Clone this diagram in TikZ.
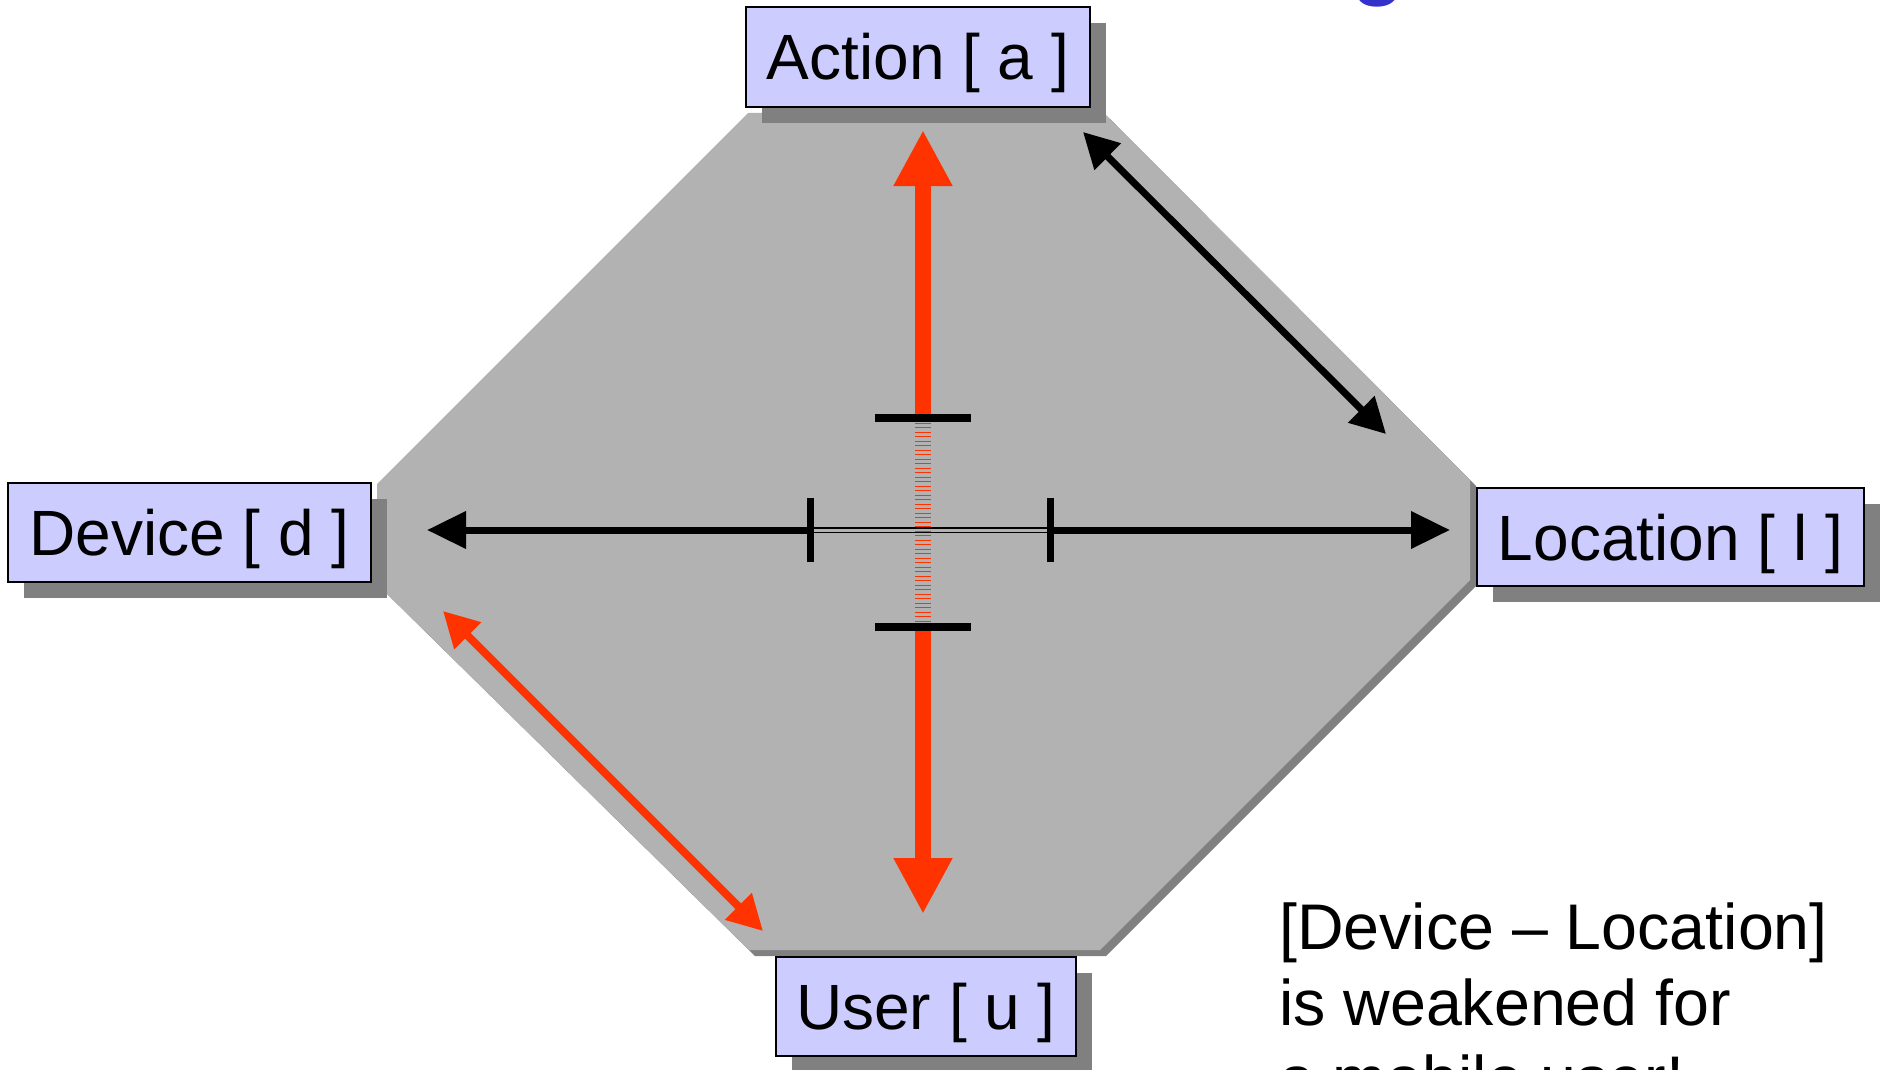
\documentclass[tikz,border=0pt]{standalone}
\usepackage{fontspec}
\setmainfont{Liberation Sans}
\usetikzlibrary{arrows.meta,shadows}
\definecolor{octgray}{HTML}{B2B2B2}
\definecolor{shadowgray}{HTML}{808080}
\definecolor{boxfill}{HTML}{CCCCFF}
\definecolor{arrowred}{HTML}{FF3300}
\definecolor{titleblue}{HTML}{3333CC}
\begin{document}
\begin{tikzpicture}[x=1pt,y=-1pt,
  box/.style={draw=black, line width=2pt, fill=boxfill, inner sep=0pt,
    text height=46pt, text depth=0pt, font=\fontsize{64}{75}\selectfont,
    general shadow={fill=shadowgray, shadow xshift=16pt, shadow yshift=-16pt}},
  note/.style={anchor=base west, inner sep=0pt, font=\fontsize{64.5}{75}\selectfont},
  blackline/.style={line width=7pt, black},
  blacktip/.style={-{Triangle[length=39pt,width=36pt]}},
  diagtip/.style={{Triangle[length=35pt,width=36pt]}-{Triangle[length=35pt,width=36pt]}},
  redline/.style={line width=16pt, arrowred},
  redtip/.style={-{Triangle[length=56pt,width=55pt]}},
  bar/.style={line width=8pt, black},
  tick/.style={line width=7pt, black}
]
\useasboundingbox (0,0) rectangle (1881,1070);
\clip (0,0) rectangle (1881,1070);

% title fragment
\node[anchor=base west, inner sep=0pt, text=titleblue,
  font=\fontsize{88}{100}\selectfont\bfseries] (title) at (1351,-11) {g};

% octagon with bevel shadow
\fill[shadowgray, shift={(6,6)}] (748,113) -- (1104,113) -- (1470,480) -- (1470,580)
  -- (1100,950) -- (749,950) -- (377,584) -- (377,484) -- cycle;
\fill[octgray] (748,113) -- (1104,113) -- (1470,480) -- (1470,580)
  -- (1100,950) -- (749,950) -- (377,584) -- (377,484) -- cycle;

% boxes
\node[box, minimum width=344pt, minimum height=100pt] (action) at (918,57) {Action [ a ]};
\node[box, minimum width=363pt, minimum height=99pt] (device) at (189.5,532.5) {Device [ d ]};
\node[box, minimum width=387pt, minimum height=98pt] (location) at (1670.5,537) {Location [ l ]};
\node[box, minimum width=300pt, minimum height=99pt] (user) at (926,1006.5) {User [ u ]};

% note
\node[note] (n1) at (1279,949) {[Device -- Location]};
\node[note] (n2) at (1279,1025) {is weakened for};
\node[note] (n3) at (1279,1101) {a mobile user!};

% connector end points
\coordinate (tipA) at (923,130);
\coordinate (tipU) at (923,914);
\coordinate (barT) at (923,418);
\coordinate (barB) at (923,627);
\coordinate (tickL) at (810.5,530);
\coordinate (tickR) at (1050.5,530);
\coordinate (tipD) at (427,530);
\coordinate (tipL) at (1450,530);
\coordinate (alA) at (1083,132);
\coordinate (alL) at (1386,434);
\coordinate (duD) at (443,611);
\coordinate (duU) at (763,931);

% horizontal axis (Device -- Location)
\draw[black, line width=5.5pt] (tickL) -- (tickR);
\draw[octgray, line width=3pt] (tickL) -- (tickR);
\draw[blackline, blacktip] (tickL) -- (tipD);
\draw[blackline, blacktip] (tickR) -- (tipL);

% vertical axis (Action -- User)
\draw[arrowred, line width=16pt, dash pattern=on 1.3pt off 3.2pt] (barT) -- (barB);
\draw[redline, redtip] (barT) -- (tipA);
\draw[redline, redtip] (barB) -- (tipU);

% crossbars and ticks
\draw[bar] ([xshift=-48pt]barT) -- ([xshift=48pt]barT);
\draw[bar] ([xshift=-48pt]barB) -- ([xshift=48pt]barB);
\draw[tick] ([yshift=32pt]tickL) -- ([yshift=-32pt]tickL);
\draw[tick] ([yshift=32pt]tickR) -- ([yshift=-32pt]tickR);

% diagonals
\draw[blackline, diagtip] (alA) -- (alL);
\draw[arrowred, line width=8pt, diagtip] (duD) -- (duU);
\end{tikzpicture}
\end{document}
